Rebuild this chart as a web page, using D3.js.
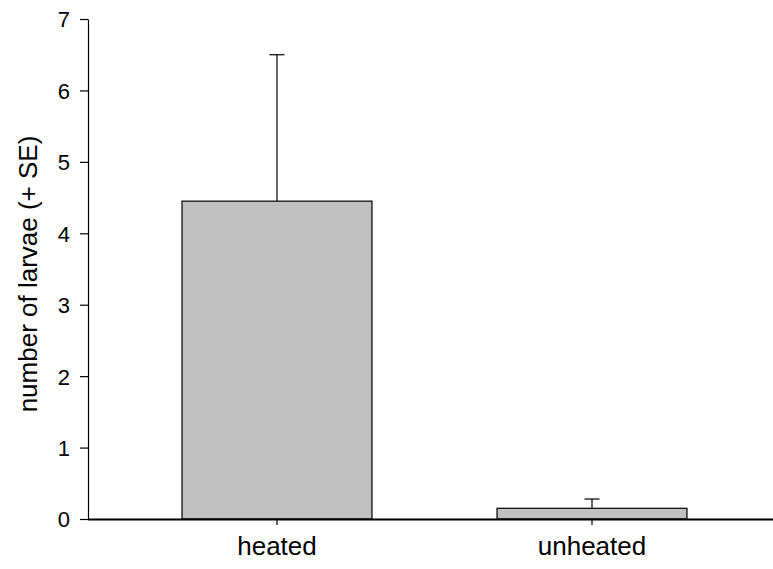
<!DOCTYPE html>
<html>
<head>
<meta charset="utf-8">
<script src="https://cdn.jsdelivr.net/npm/d3@7"></script>
<style>
  html, body { margin: 0; padding: 0; background: #fff; }
  svg { display: block; }
  text { font-family: "Liberation Sans", Arial, sans-serif; fill: #000; }
</style>
</head>
<body>
<svg id="chart" width="773" height="569"></svg>
<script>
// Mean larvae counts per treatment, with standard errors
const categories = ["heated", "unheated"];
const means = [4.45, 0.15];
const errors = [2.05, 0.13];
const yTicks = [0, 1, 2, 3, 4, 5, 6, 7];
const yTitle = "number of larvae (+ SE)";

const svg = d3.select("#chart");
const axisLeft = 88, axisRight = 773, yTop = 19, yBottom = 519;
const font = "'Liberation Sans', Arial, sans-serif";

const y = d3.scaleLinear().domain([0, 7]).range([yBottom, yTop]);
const x = d3.scaleBand().domain(categories).range([119.5, 749.5]).paddingInner(0.397).paddingOuter(0.1985);

const data = categories.map((c, i) => ({ c, m: means[i], e: errors[i] }));

// bars
svg.append("g").selectAll("rect").data(data).join("rect")
  .attr("x", d => x(d.c))
  .attr("y", d => y(d.m))
  .attr("width", x.bandwidth())
  .attr("height", d => y(0) - y(d.m))
  .attr("fill", "#c0c0c0")
  .attr("stroke", "#000")
  .attr("stroke-width", 1.2);

// error bars (upper only)
const eb = svg.append("g").attr("stroke", "#000").attr("stroke-width", 1.2);
eb.selectAll("line.v").data(data).join("line").attr("class", "v")
  .attr("x1", d => x(d.c) + x.bandwidth() / 2)
  .attr("x2", d => x(d.c) + x.bandwidth() / 2)
  .attr("y1", d => y(d.m))
  .attr("y2", d => y(d.m + d.e));
eb.selectAll("line.cap").data(data).join("line").attr("class", "cap")
  .attr("x1", d => x(d.c) + x.bandwidth() / 2 - 7.5)
  .attr("x2", d => x(d.c) + x.bandwidth() / 2 + 7.5)
  .attr("y1", d => y(d.m + d.e))
  .attr("y2", d => y(d.m + d.e));

// y axis
const yAxis = svg.append("g")
  .attr("transform", `translate(${axisLeft},0)`)
  .call(d3.axisLeft(y).tickValues(yTicks).tickFormat(d3.format("d")).tickSize(8).tickSizeOuter(0));
yAxis.select(".domain").attr("stroke-width", 1.2);
yAxis.selectAll(".tick line").attr("stroke-width", 1.2);
yAxis.selectAll(".tick text").attr("font-size", 22).attr("x", -18).attr("dy", "0.36em")
  .style("font-family", font);

// x axis
const xAxis = svg.append("g")
  .attr("transform", `translate(0,${yBottom})`)
  .call(d3.axisBottom(x).tickSize(6).tickSizeOuter(0));
xAxis.select(".domain").attr("d", `M${axisLeft},0.5H${axisRight}`).attr("stroke-width", 1.8);
xAxis.selectAll(".tick line").attr("stroke-width", 1.2);
xAxis.selectAll(".tick text").attr("font-size", 26).attr("y", 36).attr("dy", 0)
  .style("font-family", font);

// y axis title
svg.append("text")
  .attr("transform", `translate(37,${(yTop + yBottom) / 2 + 5}) rotate(-90)`)
  .attr("text-anchor", "middle")
  .attr("font-size", 26)
  .text(yTitle);
</script>
</body>
</html>
